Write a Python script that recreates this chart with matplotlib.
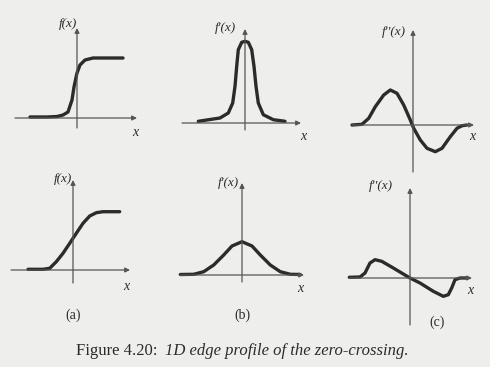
import numpy as np
import matplotlib
matplotlib.use('Agg')
import matplotlib.pyplot as plt

# curve samples, x/y relative to where the axes cross (pixels, y up)
step_sharp_x = [-47, -30, -20, -14, -9, -7, -5, -3, 0, 3, 8, 16, 30, 46]
step_sharp_y = [1, 1, 1.5, 3, 6, 12, 18, 31, 45, 53, 58, 60, 60, 60]

bell_sharp_x = [-46.7, -25, -16.7, -12.3, -10, -8.3, -6.7, -3.3, 0, 3.3, 6.7, 9, 11, 13.3, 18.3, 28.3, 40]
bell_sharp_y = [1.7, 5, 10, 20, 36.7, 56.7, 73.3, 80.7, 81.7, 80.7, 73.3, 56.7, 36.7, 20, 8.3, 3.3, 1.7]

wave_sharp_x = [-61, -51, -44.3, -37.7, -29.3, -22.7, -16, -9.3, -2.7, 0.7, 7.3, 14, 22.3, 29, 37.3, 44, 49, 54]
wave_sharp_y = [0, 0.7, 6.7, 18.3, 30, 35, 31.7, 20, 5, -3.3, -15, -23.3, -26.7, -23.3, -11.7, -3.3, -0.7, 0]

step_soft_x = [-45, -30, -23.3, -16.7, -10, -3.3, 3.3, 10, 16.7, 23.3, 30, 46.7]
step_soft_y = [0.7, 0.7, 1.7, 8.3, 16.7, 26.7, 36.7, 46.7, 54, 57.3, 58.3, 58.3]

bell_soft_x = [-61.7, -48.3, -38.3, -28.3, -18.3, -10, 0, 10, 18.3, 28.3, 38.3, 48.3, 58.3]
bell_soft_y = [0.5, 0.7, 3.3, 10, 20, 29, 33.3, 29, 20, 10, 3.3, 0.7, 0.5]

wave_soft_x = [-60.7, -50, -45, -40, -35, -28.3, -16.7, -6.7, 0, 10, 23.3, 33.3, 38.3, 41.7, 45, 50, 56.7]
wave_soft_y = [0.7, 1, 5, 15, 18.3, 16.7, 10, 4, 0, -5, -13.3, -18.3, -16.7, -10, -1.7, 0, 0]

W, H = 490, 367
BG = '#eeeeec'
INK = '#2b2b2b'
AXC = '#555555'
SERIF = ['Liberation Serif', 'DejaVu Serif']

fig = plt.figure(figsize=(W / 100, H / 100), dpi=100, facecolor=BG)


def panel(ox, oy, xs, ys, hx, vy, ylabel, ylab_pos, xlab_pos, tag=None, tag_pos=None):
    """ox, oy: pixel position of the axis crossing. hx/vy: extents of the arrows."""
    x0, x1, y0, y1 = -72, 72, -52, 105
    ax = fig.add_axes([(ox + x0) / W, (H - (oy - y0)) / H, (x1 - x0) / W, (y1 - y0) / H])
    ax.set_xlim(x0, x1)
    ax.set_ylim(y0, y1)
    ax.axis('off')
    ax.patch.set_alpha(0)
    arrow = dict(arrowstyle='-|>', lw=0.9, color=AXC, mutation_scale=7, shrinkA=0, shrinkB=0)
    ax.annotate('', xy=(hx[1], 0), xytext=(hx[0], 0), arrowprops=arrow)
    ax.annotate('', xy=(0, vy[1]), xytext=(0, vy[0]), arrowprops=arrow)
    ax.plot(xs, ys, color=INK, lw=2.4, solid_capstyle='round', solid_joinstyle='round')
    ax.text(ylab_pos[0], ylab_pos[1], ylabel, family=SERIF, style='italic', fontsize=9.5,
            ha='center', va='center', color=INK)
    ax.text(xlab_pos[0], xlab_pos[1], 'x', family=SERIF, style='italic', fontsize=10,
            ha='center', va='center', color=INK)
    if tag:
        ax.text(tag_pos[0], tag_pos[1], tag, family=SERIF, fontsize=10,
                ha='center', va='center', color=INK)
    return ax


panel(77, 118, step_sharp_x, step_sharp_y, (-62, 60), (-10, 90), 'f(x)', (-9, 94), (58, -15))
panel(245, 123, bell_sharp_x, bell_sharp_y, (-63, 56), (-7, 94), "f'(x)", (-20, 95), (58, -13))
panel(413, 125, wave_sharp_x, wave_sharp_y, (-61, 61), (-47, 95), "f''(x)", (-19, 93), (59, -12))
panel(73, 270, step_soft_x, step_soft_y, (-62, 57), (-13, 90), 'f(x)', (-10, 91), (53, -17), '(a)', (0, -45))
panel(242, 275, bell_soft_x, bell_soft_y, (-62, 62), (-7, 92), "f'(x)", (-14, 92), (58, -13), '(b)', (0, -40))
panel(410, 278, wave_soft_x, wave_soft_y, (-61, 62), (-47, 90), "f''(x)", (-29, 92), (60, -13), '(c)', (27, -44))

fig.text(157 / W, 1 - 351 / H, 'Figure 4.20:', family=SERIF, fontsize=12, ha='right', va='center', color=INK)
fig.text(165 / W, 1 - 351 / H, '1D edge profile of the zero-crossing.', family=SERIF, style='italic',
         fontsize=12, ha='left', va='center', color=INK)

fig.savefig('out.png', dpi=100, facecolor=BG)
